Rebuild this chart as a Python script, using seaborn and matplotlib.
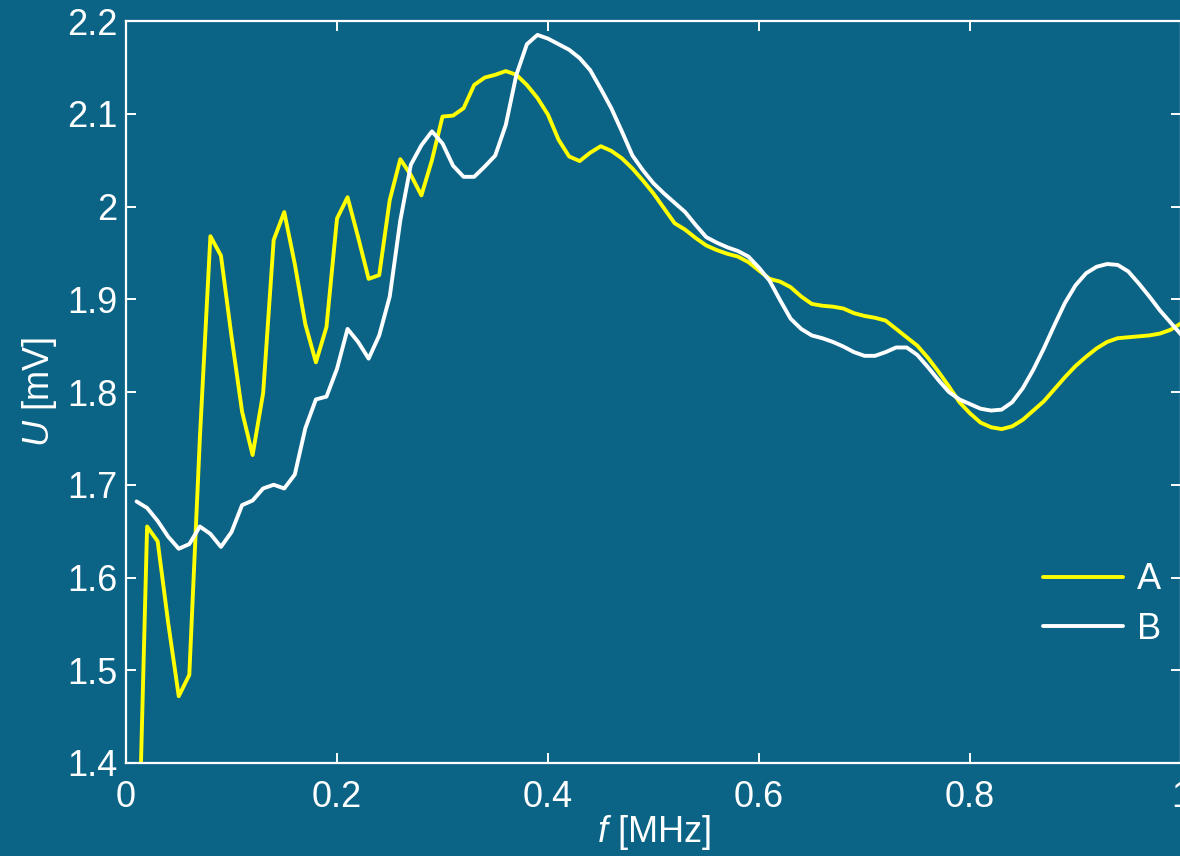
import numpy as np
import pandas as pd
import matplotlib
matplotlib.use("Agg")
import matplotlib.pyplot as plt
import seaborn as sns

# frequency axis [MHz]
freq = [round(0.01 * k, 2) for k in range(1, 101)]

# series A (yellow)
sig_a = [1.215, 1.655, 1.639, 1.551, 1.472, 1.495, 1.75, 1.968, 1.947, 1.86,
         1.779, 1.732, 1.799, 1.964, 1.994, 1.938, 1.873, 1.832, 1.870, 1.987,
         2.010, 1.967, 1.922, 1.926, 2.007, 2.051, 2.034, 2.012, 2.050, 2.097,
         2.098, 2.106, 2.131, 2.139, 2.142, 2.146, 2.142, 2.131, 2.117, 2.099,
         2.072, 2.054, 2.049, 2.058, 2.065, 2.060, 2.052, 2.041, 2.028, 2.014,
         1.998, 1.982, 1.975, 1.966, 1.958, 1.953, 1.949, 1.946, 1.940, 1.931,
         1.922, 1.919, 1.913, 1.903, 1.895, 1.893, 1.892, 1.890, 1.885, 1.882,
         1.880, 1.877, 1.868, 1.859, 1.850, 1.837, 1.822, 1.806, 1.789, 1.777,
         1.767, 1.762, 1.760, 1.763, 1.770, 1.780, 1.790, 1.803, 1.816, 1.828,
         1.838, 1.847, 1.854, 1.858, 1.859, 1.860, 1.861, 1.863, 1.867, 1.874]

# series B (white)
sig_b = [1.682, 1.675, 1.661, 1.644, 1.631, 1.636, 1.655, 1.647, 1.633, 1.649,
         1.678, 1.683, 1.696, 1.700, 1.696, 1.711, 1.761, 1.792, 1.795, 1.825,
         1.868, 1.854, 1.836, 1.861, 1.903, 1.985, 2.045, 2.066, 2.081, 2.068,
         2.044, 2.032, 2.032, 2.043, 2.055, 2.088, 2.142, 2.175, 2.185, 2.181,
         2.175, 2.169, 2.160, 2.147, 2.127, 2.106, 2.081, 2.055, 2.039, 2.025,
         2.014, 2.004, 1.994, 1.980, 1.967, 1.961, 1.956, 1.952, 1.946, 1.934,
         1.920, 1.899, 1.879, 1.868, 1.861, 1.858, 1.854, 1.849, 1.843, 1.839,
         1.839, 1.843, 1.848, 1.848, 1.840, 1.827, 1.813, 1.800, 1.792, 1.787,
         1.782, 1.780, 1.781, 1.789, 1.804, 1.824, 1.847, 1.872, 1.896, 1.915,
         1.928, 1.935, 1.938, 1.937, 1.930, 1.917, 1.903, 1.888, 1.875, 1.862]

x_ticks = [0, 0.2, 0.4, 0.6, 0.8, 1.0]
x_labels = ["0", "0.2", "0.4", "0.6", "0.8", "1"]
y_ticks = [1.4, 1.5, 1.6, 1.7, 1.8, 1.9, 2.0, 2.1, 2.2]
y_labels = ["1.4", "1.5", "1.6", "1.7", "1.8", "1.9", "2", "2.1", "2.2"]

bg = "#0b6386"
fg = "white"
fs = 26

sns.set_style("ticks")
plt.rcParams["font.family"] = ["Liberation Sans", "DejaVu Sans"]
plt.rcParams["mathtext.fontset"] = "custom"
plt.rcParams["mathtext.rm"] = "Liberation Sans"
plt.rcParams["mathtext.it"] = "Liberation Sans:italic"

df = pd.DataFrame({
    "f": freq + freq,
    "U": sig_a + sig_b,
    "series": ["A"] * len(freq) + ["B"] * len(freq),
})

fig = plt.figure(figsize=(11.8, 8.56), dpi=100, facecolor=bg)
ax = fig.add_axes([126 / 1180, 1 - 763 / 856, 1055 / 1180, (763 - 21) / 856])
ax.set_facecolor(bg)

sns.lineplot(data=df, x="f", y="U", hue="series", palette={"A": "#ffff00", "B": "white"},
             linewidth=2.8, ax=ax, legend=True)

ax.set_xlim(0, 1)
ax.set_ylim(1.4, 2.2)
ax.set_xticks(x_ticks)
ax.set_xticklabels(x_labels)
ax.set_yticks(y_ticks)
ax.set_yticklabels(y_labels)

for side in ["left", "right", "top", "bottom"]:
    ax.spines[side].set_visible(True)
    ax.spines[side].set_color(fg)
    ax.spines[side].set_linewidth(1.6)

ax.tick_params(axis="both", which="major", direction="in", length=7.5, width=1.4,
               colors=fg, labelsize=fs, top=True, right=True)
ax.tick_params(axis="x", pad=12)
ax.tick_params(axis="y", pad=6)

ax.set_xlabel(r"$f$ [MHz]", fontsize=fs, color=fg, labelpad=-1)
ax.set_ylabel(r"$U$ [mV]", fontsize=fs, color=fg, labelpad=6)

leg = ax.legend(loc="lower right", bbox_to_anchor=(1.012, 0.113), frameon=False,
                fontsize=fs, handlelength=2.2, handletextpad=0.4, labelspacing=0.4)
for txt in leg.get_texts():
    txt.set_color(fg)

fig.savefig("out.png", dpi=100, facecolor=bg)
